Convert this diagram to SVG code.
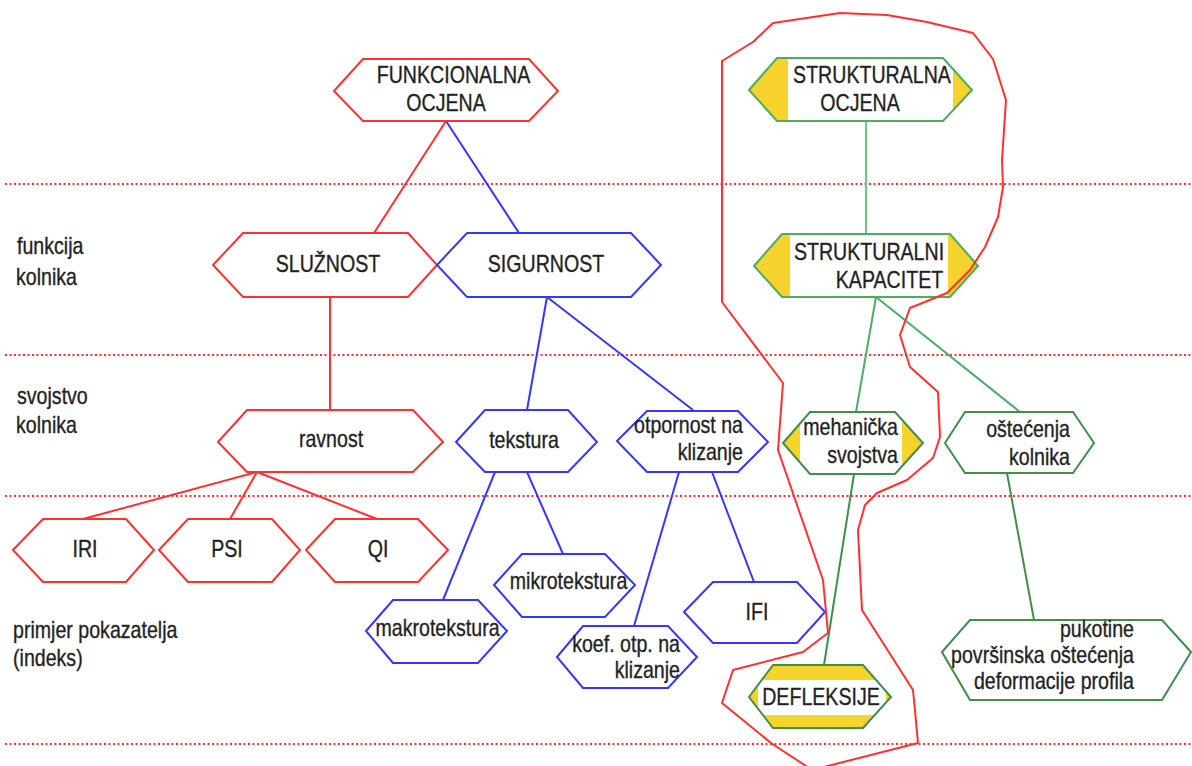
<svg xmlns="http://www.w3.org/2000/svg" width="1192" height="766" viewBox="0 0 1192 766">
<style>
text{font-family:"Liberation Sans",Arial,sans-serif;font-size:23px;fill:#1e1e1e;stroke:#2a2a2a;stroke-width:0.35}
.m{text-anchor:middle}.e{text-anchor:end}
.hr{fill:#fff;stroke:#ff3030;stroke-width:2}
.hb{fill:#fff;stroke:#3636ff;stroke-width:2}
.hg1{fill:none;stroke:#4cae5c;stroke-width:2}
.hg2{fill:none;stroke:#3f8f4a;stroke-width:2}
.hg2w{fill:#fff;stroke:#3f8f4a;stroke-width:2}
.y{fill:#f6d32d;stroke:none}
.w{fill:#fff;stroke:none}
.cr{stroke:#ff3030;stroke-width:2;fill:none}
.cb{stroke:#3636ff;stroke-width:2;fill:none}
.cg1{stroke:#6cc58a;stroke-width:2;fill:none}
.cg2{stroke:#4cae6a;stroke-width:2;fill:none}
.cg3{stroke:#3f8f4a;stroke-width:2;fill:none}
.dot{stroke:#ff3030;stroke-width:2;stroke-dasharray:2 2.5;fill:none}
</style>
<rect width="1192" height="766" fill="#fff"/>
<g id="bands">
<line class="dot" x1="5" y1="184" x2="1192" y2="184"/>
<line class="dot" x1="5" y1="355" x2="1192" y2="355"/>
<line class="dot" x1="5" y1="496" x2="1192" y2="496"/>
<line class="dot" x1="5" y1="744" x2="1192" y2="744"/>
</g>
<g id="labels">
<text transform="translate(17,254) scale(0.852,1)">funkcija</text>
<text transform="translate(16,285) scale(0.852,1)">kolnika</text>
<text transform="translate(17,404) scale(0.852,1)">svojstvo</text>
<text transform="translate(16,433) scale(0.852,1)">kolnika</text>
<text transform="translate(13,638) scale(0.852,1)">primjer pokazatelja</text>
<text transform="translate(13,666) scale(0.852,1)">(indeks)</text>
</g>
<g id="connectors">
<line class="cr" x1="446" y1="121" x2="374" y2="233"/>
<line class="cr" x1="330" y1="297" x2="330" y2="410"/>
<line class="cr" x1="257" y1="472" x2="83" y2="519"/>
<line class="cr" x1="257" y1="472" x2="230" y2="519"/>
<line class="cr" x1="257" y1="472" x2="377" y2="519"/>
<line class="cb" x1="446" y1="121" x2="519" y2="233"/>
<line class="cb" x1="547" y1="297" x2="527" y2="410"/>
<line class="cb" x1="547" y1="297" x2="693" y2="410"/>
<line class="cb" x1="495" y1="472" x2="443" y2="600"/>
<line class="cb" x1="527" y1="472" x2="563" y2="554"/>
<line class="cb" x1="679" y1="472" x2="634" y2="626"/>
<line class="cb" x1="712" y1="472" x2="754" y2="582"/>
<line class="cg1" x1="866" y1="121" x2="866" y2="234"/>
<line class="cg2" x1="876" y1="297" x2="856" y2="412"/>
<line class="cg2" x1="876" y1="297" x2="1020" y2="412"/>
<line class="cg3" x1="854" y1="474" x2="824" y2="665"/>
<line class="cg3" x1="1007" y1="473" x2="1034" y2="620"/>
</g>
<g id="funkcionalna-ocjena">
<polygon class="hr" points="334,91 363,59 529,59 558,91 529,121 363,121"/>
<text class="m" transform="translate(453.5,83) scale(0.852,1)">FUNKCIONALNA</text>
<text class="m" transform="translate(446,111) scale(0.852,1)">OCJENA</text>
</g>
<g id="sluznost">
<polygon class="hr" points="213,265 243,233 408,233 437,265 408,297 243,297"/>
<text class="m" transform="translate(328,272) scale(0.852,1)">SLUŽNOST</text>
</g>
<g id="sigurnost">
<polygon class="hb" style="fill:none" points="437,265 467,233 631,233 661,265 631,297 467,297"/>
<text class="m" transform="translate(546,272) scale(0.852,1)">SIGURNOST</text>
</g>
<g id="strukturalna-ocjena">
<polygon class="y" points="749,90 777,58 943,58 972,90 943,121 777,121"/>
<polygon class="w" points="788,58 943,58 953,69 953,110 943,121 788,121"/>
<polygon class="hg1" points="749,90 777,58 943,58 972,90 943,121 777,121"/>
<text class="m" transform="translate(872,83) scale(0.852,1)">STRUKTURALNA</text>
<text class="m" transform="translate(860,111) scale(0.852,1)">OCJENA</text>
</g>
<g id="strukturalni-kapacitet">
<polygon class="y" points="754,266 782,234 950,234 978,266 950,297 782,297"/>
<rect class="w" x="790" y="234" width="158" height="63"/>
<polygon class="hg1" points="754,266 782,234 950,234 978,266 950,297 782,297"/>
<text class="m" transform="translate(869,260) scale(0.852,1)">STRUKTURALNI</text>
<text class="m" transform="translate(889.5,288) scale(0.852,1)">KAPACITET</text>
</g>
<g id="ravnost">
<polygon class="hr" points="218,442 247,410 413,410 443,442 413,472 247,472"/>
<text class="m" transform="translate(331,447) scale(0.852,1)">ravnost</text>
</g>
<g id="tekstura">
<polygon class="hb" points="456,442 485,410 568,410 597,442 568,472 485,472"/>
<text class="m" transform="translate(524,448) scale(0.852,1)">tekstura</text>
</g>
<g id="otpornost-na-klizanje">
<polygon class="hb" points="617,441 647,411 738,411 768,442 738,472 647,472"/>
<text class="e" transform="translate(743,433) scale(0.852,1)">otpornost na</text>
<text class="e" transform="translate(743,460) scale(0.852,1)">klizanje</text>
</g>
<g id="mehanicka-svojstva">
<polygon class="y" points="783,443 810,412 895,412 923,443 895,474 810,474"/>
<polygon class="w" points="800,423.5 810,412 895,412 902,419.5 902,466.5 895,474 810,474 800,462.5"/>
<polygon class="hg2" points="783,443 810,412 895,412 923,443 895,474 810,474"/>
<text class="e" transform="translate(898,435) scale(0.852,1)">mehanička</text>
<text class="e" transform="translate(898,463) scale(0.852,1)">svojstva</text>
</g>
<g id="ostecenja-kolnika">
<polygon class="hg2w" points="945,443 965,412 1073,412 1094,443 1073,473 965,473"/>
<text class="e" transform="translate(1070,437) scale(0.852,1)">oštećenja</text>
<text class="e" transform="translate(1070,465) scale(0.852,1)">kolnika</text>
</g>
<g id="iri">
<polygon class="hr" points="13,550 43,519 126,519 154,550 126,582 43,582"/>
<text class="m" transform="translate(85,557) scale(0.852,1)">IRI</text>
</g>
<g id="psi">
<polygon class="hr" points="159,550 188,519 272,519 300,550 272,582 188,582"/>
<text class="m" transform="translate(227,557) scale(0.852,1)">PSI</text>
</g>
<g id="qi">
<polygon class="hr" points="306,550 335,519 418,519 448,550 418,582 335,582"/>
<text class="m" transform="translate(378,557) scale(0.852,1)">QI</text>
</g>
<g id="mikrotekstura">
<polygon class="hb" points="494,585 522,554 605,554 635,585 605,617 522,617"/>
<text class="m" transform="translate(568.5,589) scale(0.852,1)">mikrotekstura</text>
</g>
<g id="makrotekstura">
<polygon class="hb" points="366,631 393,600 478,600 507,631 478,663 393,663"/>
<text class="m" transform="translate(437.5,636) scale(0.852,1)">makrotekstura</text>
</g>
<g id="koef-otp-na-klizanje">
<polygon class="hb" points="557,657 583,626 668,626 697,657 668,688 583,688"/>
<text class="e" transform="translate(680,652) scale(0.852,1)">koef. otp. na</text>
<text class="e" transform="translate(680,678) scale(0.852,1)">klizanje</text>
</g>
<g id="ifi">
<polygon class="hb" points="684,612 713,582 797,582 825,612 797,643 713,643"/>
<text class="m" transform="translate(757,620) scale(0.852,1)">IFI</text>
</g>
<g id="defleksije">
<polygon class="y" points="749,697 773,665 863,665 891,697 863,728 773,728"/>
<polygon class="w" points="761.75,680 876,680 886,691.3 886,702.6 875,715 763,715 758,709 758,685"/>
<polygon class="hg2" points="749,697 773,665 863,665 891,697 863,728 773,728"/>
<text class="m" transform="translate(821,705) scale(0.852,1)">DEFLEKSIJE</text>
</g>
<g id="pukotine">
<polygon class="hg2w" points="942,652 970,620 1162,620 1191,652 1162,700 970,700"/>
<text class="e" transform="translate(1134,637) scale(0.852,1)">pukotine</text>
<text class="e" transform="translate(1134,663) scale(0.852,1)">površinska oštećenja</text>
<text class="e" transform="translate(1134,689) scale(0.852,1)">deformacije profila</text>
</g>
<g id="highlight">
<polygon points="722,61 722,302 783,383 778,450 823,580 828,633 803,652 733,670 722,703 771,743 812,770 918,743 913,690 862,610 858,530 865,505 877,493 907,480 933,458 940,437 938,392 910,367 900,335 910,308 947,293 970,270 985,247 998,217 1003,187 1002,160 1006,100 993,59 973,33 927,22 887,15 840,13 773,23 753,42" fill="none" stroke="#ff3030" stroke-width="2" stroke-linejoin="round"/>
</g>
</svg>
